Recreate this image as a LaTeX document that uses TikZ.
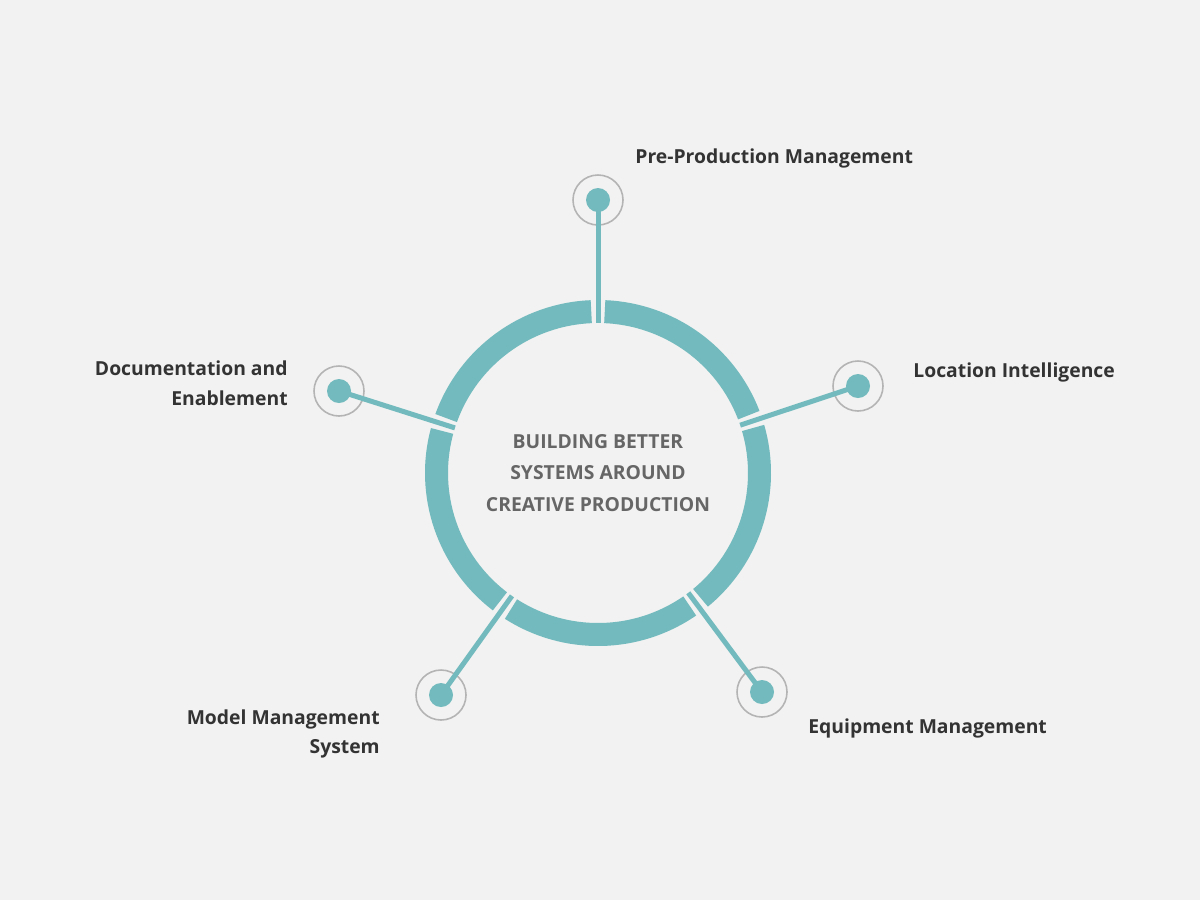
\documentclass[tikz,border=0pt]{standalone}
\usepackage{fontspec}
\setmainfont{Open Sans}
\usetikzlibrary{positioning, calc}
\definecolor{bgGray}{RGB}{242, 242, 242}
\definecolor{ringTeal}{RGB}{114, 186, 189}
\definecolor{haloGray}{RGB}{180, 180, 180}
\definecolor{labelDark}{RGB}{51, 51, 51}
\definecolor{hubGray}{RGB}{102, 102, 102}

\begin{document}
\begin{tikzpicture}[
            ring/.style={draw=ringTeal, line width=0.46cm},
            spoke/.style={draw=ringTeal, line width=0.1cm},
            halo/.style={circle, draw=haloGray, line width=0.9pt, fill=bgGray, minimum size=1cm, inner sep=0pt},
            dot/.style={circle, fill=ringTeal, minimum size=0.48cm, inner sep=0pt},
            label/.style={font=\fontsize{11}{17}\selectfont\bfseries, text=labelDark, inner sep=0pt}
        ]
            % Background
            \fill[bgGray] (0,0) rectangle (24,-18);
            \useasboundingbox (0,0) rectangle (24,-18);

            % Hub
            \coordinate (hub) at (11.96,-9.46);
            \node[font=\fontsize{11}{18}\selectfont\bfseries, text=hubGray, align=center] (hubtext) at (hub) {BUILDING BETTER\\SYSTEMS AROUND\\CREATIVE PRODUCTION};

            % Ring segments
            \draw[ring] ($(hub)+(21.0:3.23)$) arc (21.0:87.6:3.23);
            \draw[ring] ($(hub)+(92.4:3.23)$) arc (92.4:160.1:3.23);
            \draw[ring] ($(hub)+(164.9:3.23)$) arc (164.9:232.6:3.23);
            \draw[ring] ($(hub)+(237.4:3.23)$) arc (237.4:304.6:3.23);
            \draw[ring] ($(hub)+(309.4:3.23)$) arc (309.4:376.2:3.23);

            % Spoke ends on the ring
            \coordinate (preIn) at ($(hub)+(90:3.0)$);
            \coordinate (locIn) at ($(hub)+(18.6:3.0)$);
            \coordinate (equipIn) at ($(hub)+(-53:3.0)$);
            \coordinate (modelIn) at ($(hub)+(-125:3.0)$);
            \coordinate (docsIn) at ($(hub)+(162.5:3.0)$);

            % Halos
            \node[halo] (preHalo) at (11.96,-4.00) {};
            \node[halo] (locHalo) at (17.16,-7.72) {};
            \node[halo] (equipHalo) at (15.24,-13.84) {};
            \node[halo] (modelHalo) at (8.82,-13.90) {};
            \node[halo] (docsHalo) at (6.78,-7.82) {};

            % Spokes
            \draw[spoke] (preIn) -- (preHalo.center);
            \draw[spoke] (locIn) -- (locHalo.center);
            \draw[spoke] (equipIn) -- (equipHalo.center);
            \draw[spoke] (modelIn) -- (modelHalo.center);
            \draw[spoke] (docsIn) -- (docsHalo.center);

            % Dots
            \node[dot] (pre) at (preHalo) {};
            \node[dot] (loc) at (locHalo) {};
            \node[dot] (equip) at (equipHalo) {};
            \node[dot] (model) at (modelHalo) {};
            \node[dot] (docs) at (docsHalo) {};

            % Labels
            \node[label, anchor=west] (preLabel) at (12.70,-3.16) {Pre-Production Management};
            \node[label, anchor=west] (locLabel) at (18.26,-7.44) {Location Intelligence};
            \node[label, anchor=west] (equipLabel) at (16.16,-14.56) {Equipment Management};
            \node[label, anchor=east, align=right] (modelLabel) at (7.60,-14.68) {Model Management\\System};
            \node[label, anchor=east, align=right] (docsLabel) at (5.76,-7.66) {Documentation and\\Enablement};
        \end{tikzpicture}
\end{document}
